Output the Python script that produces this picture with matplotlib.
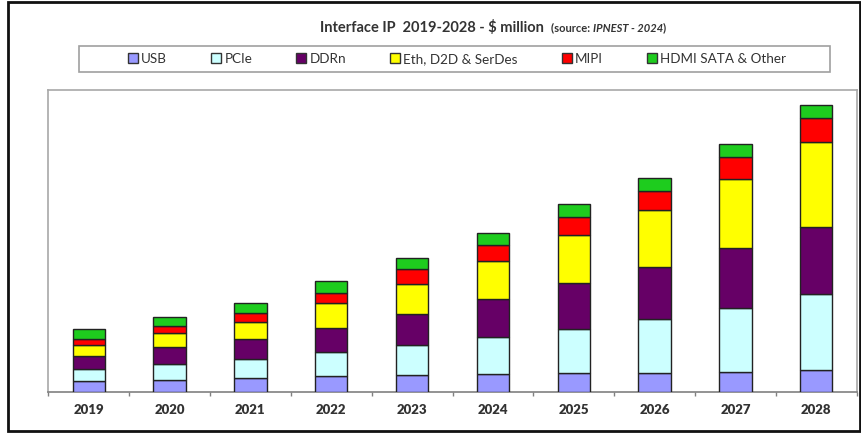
import numpy as np
import matplotlib.pyplot as plt
from matplotlib.patches import Patch, Rectangle

plt.rcParams['font.family'] = ['Lato', 'DejaVu Sans']

years = ["2019", "2020", "2021", "2022", "2023", "2024", "2025", "2026", "2027", "2028"]

# $ million per segment
usb = [195, 213, 255, 286, 299, 317, 335, 346, 365, 390]
pcie = [224, 292, 341, 438, 552, 680, 813, 979, 1156, 1385]
ddrn = [226, 304, 359, 432, 560, 693, 828, 942, 1105, 1232]
eth_d2d_serdes = [201, 266, 321, 456, 558, 698, 886, 1045, 1258, 1539]
mipi = [109, 122, 164, 193, 263, 281, 317, 341, 401, 438]
hdmi_sata_other = [182, 159, 171, 219, 206, 230, 242, 237, 232, 242]

series = [
    ("USB", usb, "#9999ff"),
    ("PCIe", pcie, "#ccffff"),
    ("DDRn", ddrn, "#660066"),
    ("Eth, D2D & SerDes", eth_d2d_serdes, "#ffff00"),
    ("MIPI", mipi, "#ff0000"),
    ("HDMI SATA & Other", hdmi_sata_other, "#1ecc1e"),
]

W, H = 862, 437
fig = plt.figure(figsize=(W / 100, H / 100), dpi=100)
fig.patch.set_facecolor("white")

ax = fig.add_axes([48.3 / W, 1 - 391.7 / H, (856.7 - 48.3) / W, (391.7 - 90) / H])

x = np.arange(len(years))
bottom = np.zeros(len(years))
for name, vals, color in series:
    ax.bar(x, vals, 0.4, bottom=bottom, color=color, edgecolor="#222222",
           linewidth=1.0, zorder=3)
    bottom += np.array(vals)

ax.set_xlim(-0.5, len(years) - 0.5)
ax.set_ylim(0, 5500)
ax.set_yticks([])
ax.set_xticks(x)
ax.set_xticklabels(years, fontsize=9.5, fontweight="heavy", color="#333333")
ax.tick_params(axis="x", which="major", length=0, pad=9)
ax.set_xticks(np.arange(len(years) + 1) - 0.5, minor=True)
ax.tick_params(axis="x", which="minor", length=3, width=1, color="#808080")
for side in ["top", "right", "left"]:
    ax.spines[side].set_color("#a8a8a8")
    ax.spines[side].set_linewidth(1.2)
ax.spines["bottom"].set_color("#808080")
ax.spines["bottom"].set_linewidth(1.2)

# legend with its own box
fig.patches.append(Rectangle((79 / W, 1 - 72.3 / H), (830 - 79) / W, 26.6 / H,
                             transform=fig.transFigure, fill=False,
                             edgecolor="#a0a0a0", linewidth=1.2))
handles = [Patch(facecolor=c, edgecolor="#333333", linewidth=1.0, label=n)
           for n, _, c in series]
leg = fig.legend(handles=handles, ncol=6, frameon=False, loc="center",
                 bbox_to_anchor=(457 / W, 1 - 59 / H), fontsize=9.7,
                 handlelength=0.75, handleheight=0.75, handletextpad=0.25,
                 columnspacing=3.25, borderaxespad=0)
for t in leg.get_texts():
    t.set_color("#333333")

# title pieces laid out left to right
fig.canvas.draw()
renderer = fig.canvas.get_renderer()
title_parts = [
    ("Interface IP  2019-2028 - $ million  ", 10.5, "normal"),
    ("(source: ", 8, "normal"),
    ("IPNEST - 2024", 8, "italic"),
    (")", 8, "normal"),
]
xpos = 320 / W
for text, size, style in title_parts:
    t = fig.text(xpos, 1 - 31.5 / H, text, fontsize=size, fontweight="bold",
                 fontstyle=style, color="#333333", va="baseline", ha="left")
    bb = t.get_window_extent(renderer)
    xpos += bb.width / W

# outer frame
fig.patches.append(Rectangle((8 / W, 6 / H), (860 - 8) / W, (435 - 6) / H,
                             transform=fig.transFigure, fill=False,
                             edgecolor="#111111", linewidth=2))

plt.savefig("out.png", dpi=100)
